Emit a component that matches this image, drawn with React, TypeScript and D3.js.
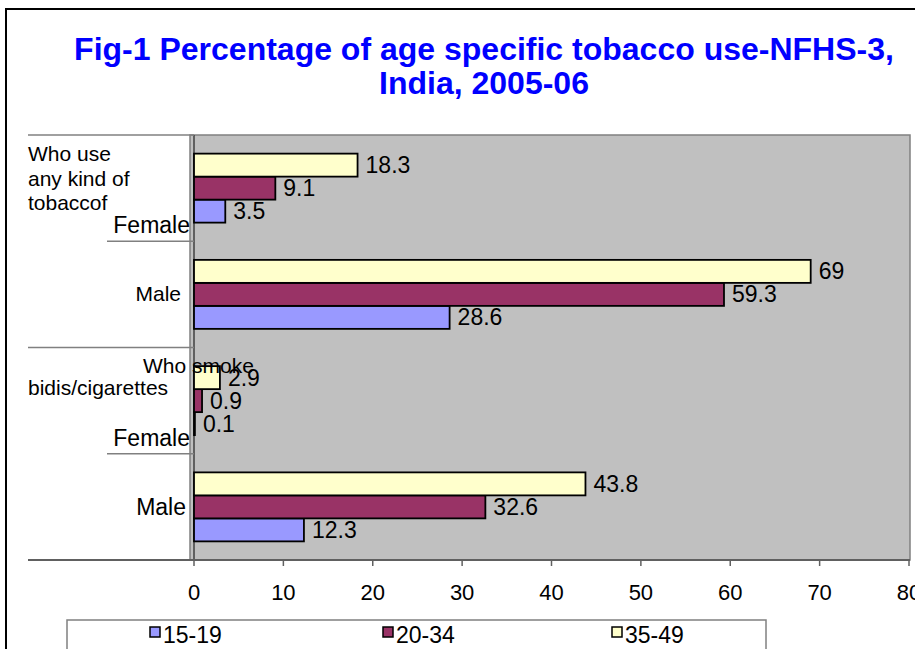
import React from "react";
import * as d3 from "d3";

const width = 915;
const height = 649;

// categories, top to bottom
const groups = ["Who use any kind of tobaccof", "Who smoke bidis/cigarettes"];
const sexes = ["Female", "Male"];
const rows = ["any-Female", "any-Male", "smoke-Female", "smoke-Male"];
const rowLabels = ["Female", "Male", "Female", "Male"];

// series, one value per row
const ages = ["15-19", "20-34", "35-49"];
const s1519 = [3.5, 28.6, 0.1, 12.3];
const s2034 = [9.1, 59.3, 0.9, 32.6];
const s3549 = [18.3, 69, 2.9, 43.8];
const xTicks = [0, 10, 20, 30, 40, 50, 60, 70, 80];

const colors = ["#9999FF", "#993366", "#FFFFCC"];
const font = "'Liberation Sans', Arial, sans-serif";

const plot = { left: 194, right: 909, top: 135, bottom: 560 };

export default function App() {
  const series = [s1519, s2034, s3549];
  const x = d3.scaleLinear().domain([0, 80]).range([plot.left, plot.right]);
  const y = d3.scaleBand().domain(rows).range([plot.top, plot.bottom]).padding(0);
  // 35-49 on top, 15-19 at the bottom of each band
  const yInner = d3.scaleBand().domain(["35-49", "20-34", "15-19"])
    .range([0, y.bandwidth()]).paddingInner(0).paddingOuter(0.81);

  const bars = [];
  const labels = [];
  rows.forEach((r, i) => {
    ages.forEach((a, j) => {
      const v = series[j][i];
      const yy = y(r) + yInner(a);
      bars.push(
        <rect key={r + a} x={x(0)} y={yy} width={x(v) - x(0)} height={yInner.bandwidth()}
          fill={colors[j]} stroke="#000" strokeWidth={1.8} />
      );
      labels.push(
        <text key={"l" + r + a} x={x(v) + 8} y={yy + yInner.bandwidth() / 2 + 8}
          fontSize={23} fill="#000">{v}</text>
      );
    });
  });

  // group label lines (wrapped as in the source)
  const groupLines = [
    [["Who use", 28, 26], ["any kind of", 28, 51], ["tobaccof", 28, 75]],
    [["Who smoke", 143, 25], ["bidis/cigarettes", 28, 47]],
  ];
  const groupStart = [y(rows[0]), y(rows[2])];

  return (
    <svg width={width} height={height} style={{ position: "absolute", left: 0, top: 0 }}
      fontFamily={font}>
      <rect x={0} y={0} width={width} height={height} fill="#fff" />
      <rect x={6} y={9} width={1000} height={1000} fill="none" stroke="#000" strokeWidth={2} />

      <text x={484} y={60} textAnchor="middle" fontSize={32} fontWeight="bold" fill="#0000FF">
        Fig-1 Percentage of age specific tobacco use-NFHS-3,
      </text>
      <text x={484} y={94} textAnchor="middle" fontSize={32} fontWeight="bold" fill="#0000FF">
        India, 2005-06
      </text>

      <rect x={190} y={plot.top} width={plot.right + 1 - 190} height={plot.bottom - plot.top}
        fill="#C0C0C0" stroke="#808080" strokeWidth={1.5} />
      <line x1={plot.left} x2={plot.left} y1={plot.top} y2={plot.bottom} stroke="#404040" strokeWidth={1.5} />

      {bars}
      {labels}

      {/* category axis separators */}
      {rows.map((r, i) => (
        <line key={"sep" + r} x1={i % 2 === 0 ? 28 : 107} x2={plot.left} y1={y(r)} y2={y(r)}
          stroke="#808080" strokeWidth={1.5} />
      ))}
      <line x1={28} x2={plot.right + 1} y1={plot.bottom} y2={plot.bottom} stroke="#606060" strokeWidth={2} />
      {xTicks.map((t) => (
        <g key={"t" + t}>
          <line x1={x(t)} x2={x(t)} y1={plot.bottom} y2={plot.bottom + 6} stroke="#606060" strokeWidth={1.5} />
          <text x={x(t)} y={600} textAnchor="middle" fontSize={22}>{t}</text>
        </g>
      ))}

      {rowLabels.map((l, i) => {
        const r = rows[i];
        if (l === "Female") {
          return <text key={"rl" + i} x={190} y={y(r) + y.bandwidth() - 8} textAnchor="end" fontSize={23}>{l}</text>;
        }
        const small = i === 1;
        return <text key={"rl" + i} x={small ? 181 : 186} y={y(r) + y.bandwidth() / 2 + (small ? 7 : 8)}
          textAnchor="end" fontSize={small ? 21 : 23}>{l}</text>;
      })}

      {groupLines.map((lines, g) => lines.map(([t, lx, dy]) => (
        <text key={"g" + g + t} x={lx} y={groupStart[g] + dy} fontSize={21}>{t}</text>
      )))}

      <rect x={67} y={620} width={699} height={60} fill="#fff" stroke="#808080" strokeWidth={1.5} />
      {ages.map((a, j) => {
        const lx = [150, 383, 612][j];
        return (
          <g key={"lg" + a}>
            <rect x={lx} y={627} width={10} height={10} fill={colors[j]} stroke="#000" strokeWidth={1.5} />
            <text x={lx + 13} y={643} fontSize={23}>{a}</text>
          </g>
        );
      })}
    </svg>
  );
}
